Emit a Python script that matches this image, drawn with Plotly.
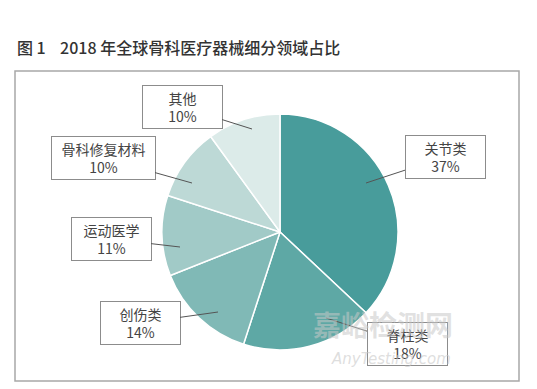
import plotly.graph_objects as go

W, H = 537, 389

categories = ["关节类", "脊柱类", "创伤类", "运动医学", "骨科修复材料", "其他"]
values = [37, 18, 14, 11, 10, 10]
pct_labels = ["37%", "18%", "14%", "11%", "10%", "10%"]
colors = ["#489c9b", "#5ea8a5", "#80b9b6", "#a1cac7", "#bdd9d6", "#dcebe9"]

# pixel positions: arrow tip (on pie) and box center
tips = [(366, 183), (326, 318), (218, 312), (180, 247), (192, 183), (252, 129)]
boxes = [(445, 157), (407, 344), (140, 323), (111, 239), (103, 158), (182, 107)]
box_w = [77, 77, 77, 77, 101, 77]

def px(x):
    return x / W

def py(y):
    return 1 - y / H

cx, cy, r = 280, 232, 118

fig = go.Figure()
fig.add_trace(go.Pie(
    labels=categories,
    values=values,
    sort=False,
    direction="clockwise",
    rotation=0,
    textinfo="none",
    hoverinfo="label+percent",
    marker=dict(colors=colors, line=dict(color="white", width=1.5)),
    domain=dict(x=[px(cx - r), px(cx + r)], y=[py(cy + r), py(cy - r)]),
    showlegend=False,
))

annotations = []
for name, pct, (tx, ty), (bx, by), bw in zip(categories, pct_labels, tips, boxes, box_w):
    annotations.append(dict(
        x=px(tx), y=py(ty), xref="paper", yref="paper",
        ax=bx - tx, ay=by - ty,
        text=f"{name}<br>{pct}",
        showarrow=True, arrowhead=0, arrowwidth=1, arrowcolor="#555555",
        bgcolor="white", bordercolor="#8c8c8c", borderwidth=1,
        width=bw, height=40, borderpad=1,
        font=dict(family="Noto Sans CJK SC", size=14, color="#444444"),
        align="center",
    ))

sp = "\u00a0"
annotations.append(dict(
    x=px(15), y=py(47), xref="paper", yref="paper", xanchor="left", yanchor="middle",
    text=f"图{sp}1{sp}{sp}{sp}{sp}2018{sp}年全球骨科医疗器械细分领域占比",
    showarrow=False,
    font=dict(family="Noto Sans CJK SC", size=16, color="#333333", weight=500),
))
# faint watermark
annotations.append(dict(
    x=px(455), y=py(346), xref="paper", yref="paper",
    text="<b>嘉峪检测网</b>", showarrow=False,
    font=dict(family="Noto Sans CJK SC", size=28, color="rgba(200,200,200,0.55)"),
))
annotations.append(dict(
    x=px(453), y=py(370), xref="paper", yref="paper",
    text="<i>AnyTesting.com</i>", showarrow=False,
    font=dict(family="DejaVu Sans", size=15, color="rgba(200,200,200,0.6)"),
))

fig.update_layout(
    width=W, height=H,
    margin=dict(l=0, r=0, t=0, b=0),
    paper_bgcolor="white", plot_bgcolor="white",
    annotations=annotations,
    shapes=[dict(type="rect", xref="paper", yref="paper",
                 x0=px(15), x1=px(519), y0=py(381), y1=py(71),
                 line=dict(color="#a8a8a8", width=1.5), layer="below")],
)

fig.write_html("out.html")
